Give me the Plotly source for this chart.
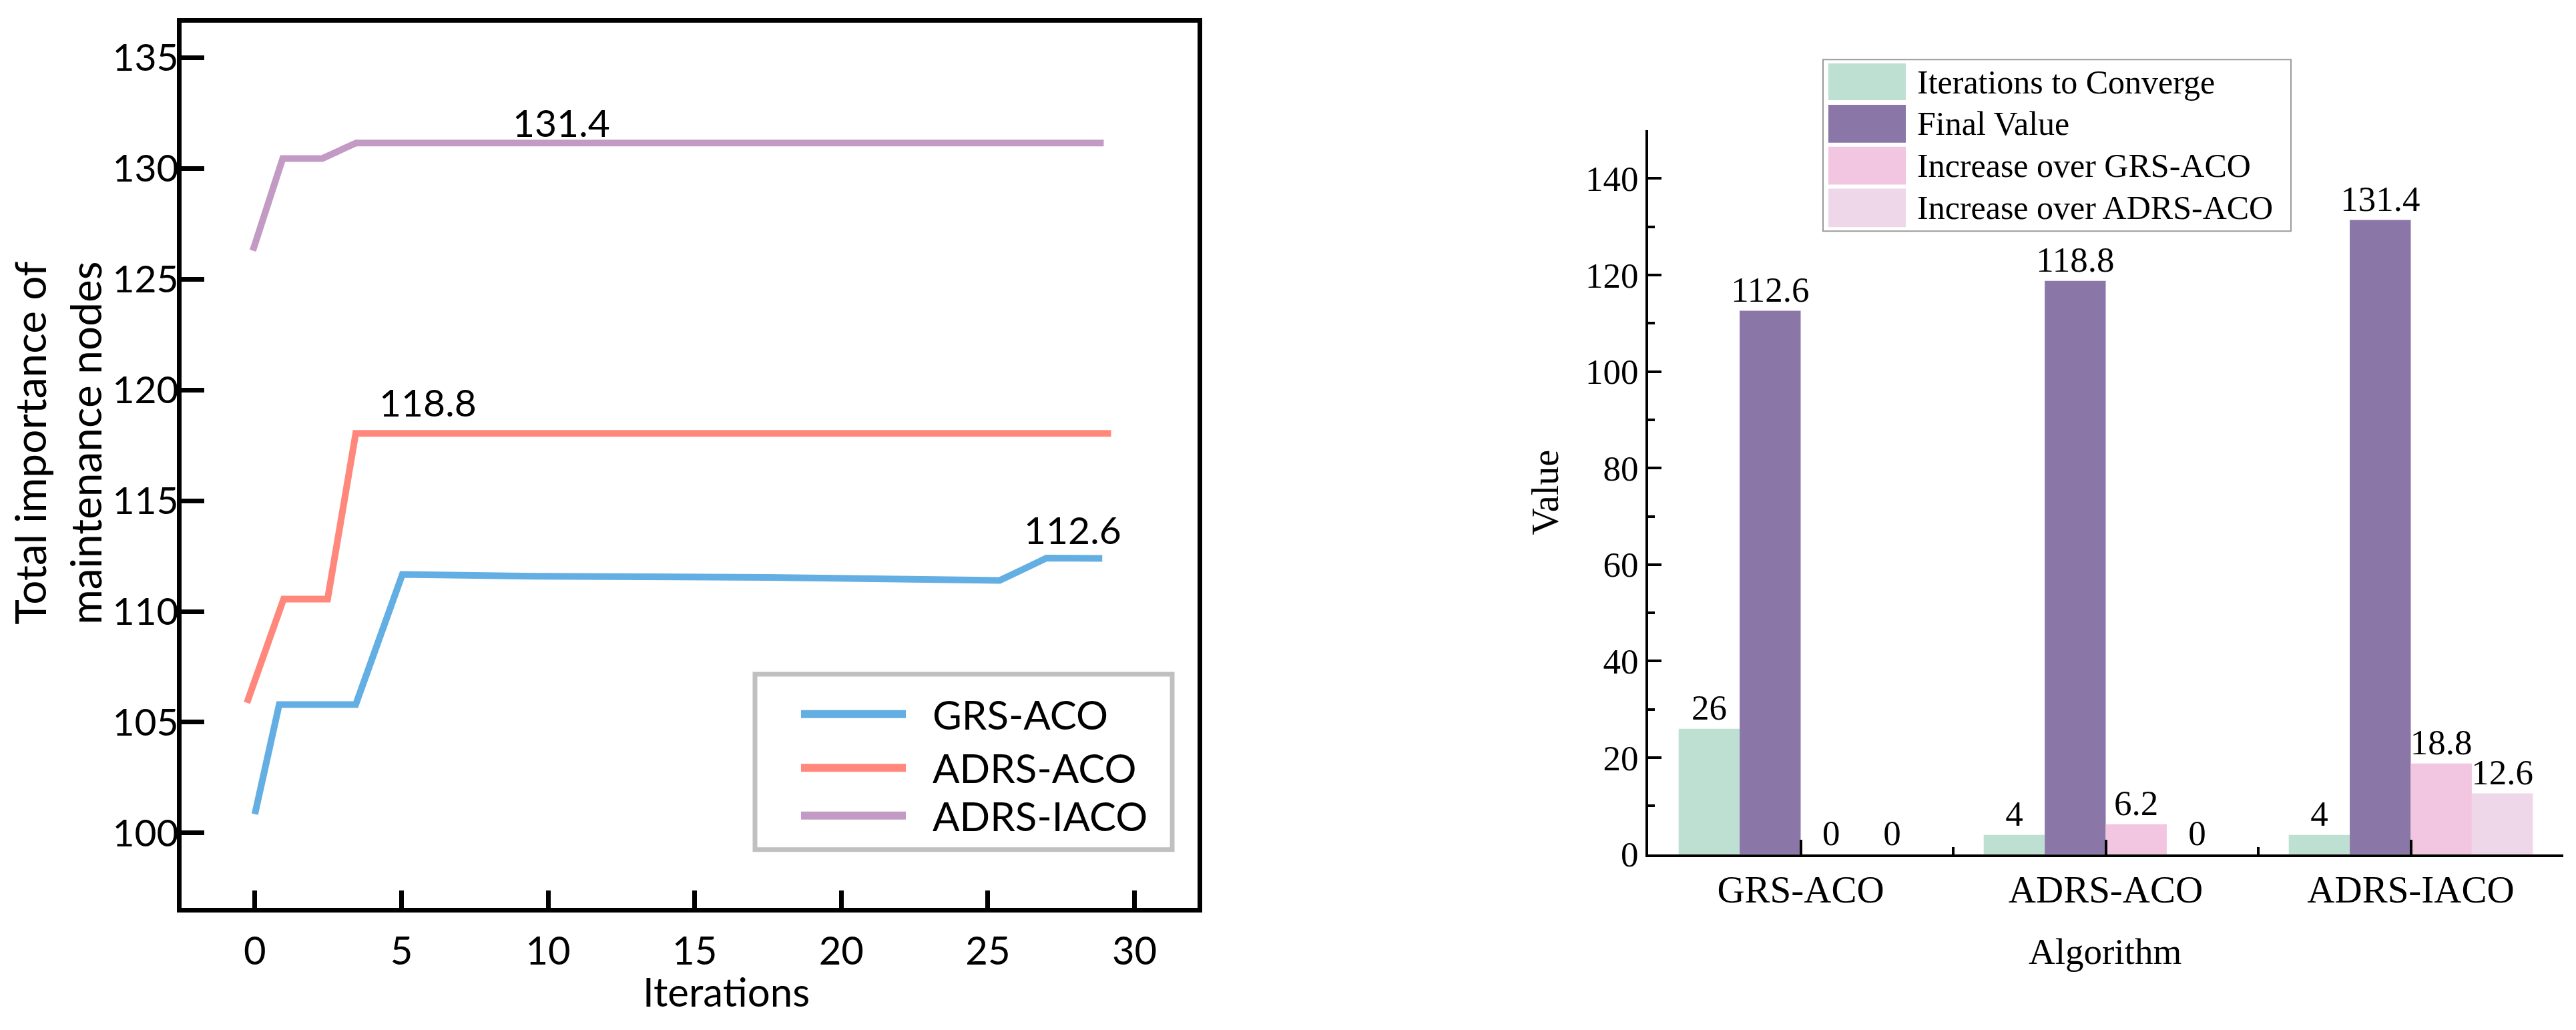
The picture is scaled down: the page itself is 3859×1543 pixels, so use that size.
import plotly.graph_objects as go

# ---------------- data: left line chart ----------------
series_names = ["GRS-ACO", "ADRS-ACO", "ADRS-IACO"]
grs_x = [0, 0.83, 3.44, 5.03, 9.6, 17.45, 25.4, 27.0, 28.9]
grs_y = [100.85, 105.80, 105.80, 111.67, 111.59, 111.54, 111.40, 112.41, 112.40]
adrs_x = [-0.27, 0.98, 2.48, 3.44, 29.2]
adrs_y = [105.88, 110.56, 110.56, 118.04, 118.04]
iaco_x = [-0.07, 0.95, 2.3, 3.45, 28.95]
iaco_y = [126.29, 130.45, 130.45, 131.15, 131.15]
final_labels = ["112.6", "118.8", "131.4"]

# ---------------- data: right bar chart ----------------
algorithms = ["GRS-ACO", "ADRS-ACO", "ADRS-IACO"]
bar_series = ["Iterations to Converge", "Final Value",
              "Increase over GRS-ACO", "Increase over ADRS-ACO"]
iterations_to_converge = [26, 4, 4]
final_value = [112.6, 118.8, 131.4]
increase_over_grs = [0, 6.2, 18.8]
increase_over_adrs = [0, 0, 12.6]

W, H = 3859, 1543
LINE_FONT = "Lato"
SERIF = "Liberation Serif"

line_colors = ["#63AFE3", "#FF877B", "#C29AC4"]
bar_colors = ["#BEE0D2", "#8B76A8", "#F2C5E0", "#EED7E9"]


def px(x):
    return x / W


def py(y):
    return 1 - y / H


fig = go.Figure()

for name, xs, ys, col in zip(series_names, [grs_x, adrs_x, iaco_x],
                              [grs_y, adrs_y, iaco_y], line_colors):
    fig.add_trace(go.Scatter(
        x=xs, y=ys, mode="lines", name=name,
        line=dict(color=col, width=10),
        xaxis="x", yaxis="y", showlegend=False))

x_idx = list(range(len(algorithms)))
for name, vals, col in zip(bar_series,
                           [iterations_to_converge, final_value,
                            increase_over_grs, increase_over_adrs],
                           bar_colors):
    fig.add_trace(go.Bar(
        x=x_idx, y=vals, name=name, marker=dict(color=col, line=dict(width=0)),
        text=[f"{v:g}" for v in vals], textposition="outside",
        textfont=dict(family=SERIF, size=53, color="black"),
        constraintext="none", cliponaxis=False,
        xaxis="x2", yaxis="y2", showlegend=False))

# positions (iterations, value) of the final-value labels
label_pos = [(27.9, 113.7), (5.9, 119.45), (10.45, 132.1)]
annotations = []
for txt, (lx, ly) in zip(final_labels, label_pos):
    annotations.append(dict(x=lx, y=ly, xref="x", yref="y", text=txt,
                            showarrow=False, xanchor="center", yanchor="middle",
                            font=dict(family=LINE_FONT, size=57, color="black")))

annotations += [
    dict(x=px(1088), y=py(1514), xref="paper", yref="paper",
         text="Iterations", showarrow=False, xanchor="center", yanchor="middle",
         font=dict(family=LINE_FONT, size=60, color="black")),
    dict(x=px(86), y=py(677), xref="paper", yref="paper",
         text="Total importance of<br>maintenance nodes", textangle=-90,
         showarrow=False, xanchor="center", yanchor="middle",
         font=dict(family=LINE_FONT, size=64, color="black")),
    dict(x=px(3153), y=py(1454), xref="paper", yref="paper",
         text="Algorithm", showarrow=False, xanchor="center", yanchor="middle",
         font=dict(family=SERIF, size=55, color="black")),
    dict(x=px(2315), y=py(752), xref="paper", yref="paper",
         text="Value", textangle=-90, showarrow=False,
         xanchor="center", yanchor="middle",
         font=dict(family=SERIF, size=56, color="black")),
]

shapes = []
# ---- legend of the line chart (drawn as a boxed key) ----
shapes.append(dict(type="rect", xref="paper", yref="paper",
                   x0=px(1131), x1=px(1756), y0=py(1298), y1=py(1030),
                   line=dict(color="#C0C0C0", width=7), fillcolor="white",
                   layer="above"))
left_rows = [1091, 1173, 1246]
for name, col, ry in zip(series_names, line_colors, left_rows):
    shapes.append(dict(type="line", xref="paper", yref="paper",
                       x0=px(1200), x1=px(1357), y0=py(ry), y1=py(ry),
                       line=dict(color=col, width=12), layer="above"))
    annotations.append(dict(x=px(1395), y=py(ry), xref="paper", yref="paper",
                            text=name, showarrow=False, xanchor="left",
                            yanchor="middle",
                            font=dict(family=LINE_FONT, size=60, color="black")))

# ---- legend of the bar chart ----
shapes.append(dict(type="rect", xref="paper", yref="paper",
                   x0=px(2731), x1=px(3432), y0=py(353), y1=py(91),
                   line=dict(color="#9A9A9A", width=2), fillcolor="white",
                   layer="above"))
right_rows = [(97, 153), (160, 218), (224, 282), (288, 347)]
for name, col, (r0, r1) in zip(bar_series, bar_colors, right_rows):
    shapes.append(dict(type="rect", xref="paper", yref="paper",
                       x0=px(2739), x1=px(2855), y0=py(r1), y1=py(r0),
                       line=dict(width=0), fillcolor=col, layer="above"))
    annotations.append(dict(x=px(2870), y=py((r0 + r1) / 2), xref="paper",
                            yref="paper", text=name, showarrow=False,
                            xanchor="left", yanchor="middle",
                            font=dict(family=SERIF, size=50, color="black")))

fig.update_layout(
    width=W, height=H,
    margin=dict(l=0, r=0, t=0, b=0),
    paper_bgcolor="white", plot_bgcolor="white",
    barmode="group", bargap=0.2, bargroupgap=0,
    showlegend=False,
    xaxis=dict(domain=[px(272), px(1794)], range=[-2.5, 32.15], anchor="y",
               tick0=0, dtick=5, ticks="inside", ticklen=26, tickwidth=7,
               tickcolor="black", showline=True, linewidth=7, linecolor="black",
               mirror=True, showgrid=False, zeroline=False,
               ticklabelstandoff=8,
               tickfont=dict(family=LINE_FONT, size=58, color="black")),
    yaxis=dict(domain=[py(1387), py(35)], range=[96.62, 136.57], anchor="x",
               tick0=100, dtick=5, ticks="inside", ticklen=34, tickwidth=7,
               tickcolor="black", showline=True, linewidth=7, linecolor="black",
               mirror=True, showgrid=False, zeroline=False,
               ticklabelstandoff=-14,
               tickfont=dict(family=LINE_FONT, size=57, color="black")),
    xaxis2=dict(domain=[px(2469), px(3840)], range=[-0.5, 2.5], anchor="y2",
                tickmode="array", tickvals=x_idx, ticktext=algorithms,
                ticks="inside", ticklen=22, tickwidth=4, tickcolor="black",
                minor=dict(tickmode="linear", tick0=0.5, dtick=1, ticks="inside",
                           ticklen=11, tickwidth=4, tickcolor="black"),
                showline=True, linewidth=4, linecolor="black",
                showgrid=False, zeroline=False,
                tickfont=dict(family=SERIF, size=57, color="black")),
    yaxis2=dict(domain=[py(1305), py(199)], range=[0, 150], anchor="x2",
                tick0=0, dtick=20, ticks="inside", ticklen=20, tickwidth=4,
                tickcolor="black",
                minor=dict(tick0=0, dtick=10, ticks="inside", ticklen=10,
                           tickwidth=4, tickcolor="black"),
                showline=True, linewidth=4, linecolor="black",
                showgrid=False, zeroline=False,
                tickfont=dict(family=SERIF, size=53, color="black")),
    shapes=shapes,
    annotations=annotations,
)

fig.write_html("out.html", config={"displayModeBar": False},
               post_script="document.body.style.margin='0';document.body.style.overflow='hidden';")
